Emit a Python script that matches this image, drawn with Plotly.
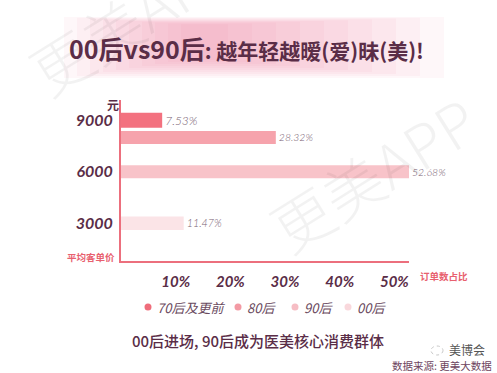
import plotly.graph_objects as go

# ---- data ----
generations = ["70后及更前", "80后", "90后", "00后"]
order_share = [7.53, 28.32, 52.68, 11.47]          # 订单数占比 (%)
avg_price = [9000, 8000, 6000, 3000]                # 平均客单价 (元)
price_ticks = [9000, 6000, 3000]
price_tick_labels = ["9000", "6000", "3000"]
share_ticks = [10, 20, 30, 40, 50]
share_tick_labels = ["10%", "20%", "30%", "40%", "50%"]

# ---- style ----
bar_colors = ["#f3717f", "#f6a3ac", "#f8c3c9", "#fbe4e7"]
dot_colors = ["#ef6d7b", "#f39aa4", "#f6bdc4", "#f9d8dc"]
bar_widths = [880, 760, 760, 780]
legend_dot_px = [148, 238, 295, 348]   # legend entry positions (layout)
W, H = 497, 373
L, R, T, B = 121, 88, 100, 112
PW, PH = W - L - R, H - T - B
AXIS = "#ec6f7d"
DARK = "#5a2d47"
LABEL = "#7a6273"


def px(x):
    return (x - L) / PW


def py(y):
    return (H - B - y) / PH


fig = go.Figure()

for g, v, p, c, w in zip(generations, order_share, avg_price, bar_colors, bar_widths):
    fig.add_trace(go.Bar(
        x=[v], y=[p], orientation="h", width=w, name=g,
        marker=dict(color=c, line=dict(width=0)),
        text=[f"{v:.2f}%"], textposition="outside", cliponaxis=False,
        textfont=dict(family="Lato", size=12, color=LABEL, style="italic", weight=300),
        showlegend=False, hoverinfo="skip",
    ))

shapes = []
# title glow band
for i in range(10):
    shapes.append(dict(
        type="rect", xref="paper", yref="paper",
        x0=px(64 + i * 13), x1=px(444 - i * 24),
        y0=py(78 - i * 2), y1=py(17 + i * 0.8),
        fillcolor="#f07c9a", opacity=0.06, line=dict(width=0), layer="below",
    ))

annotations = [
    # watermarks
    dict(text="更美APP", x=px(132), y=py(16), xref="paper", yref="paper", showarrow=False,
         xanchor="center", yanchor="middle", textangle=-32,
         font=dict(family="Noto Sans CJK SC", size=60, color="rgba(0,0,0,0.05)", weight=300)),
    dict(text="更美APP", x=px(372), y=py(172), xref="paper", yref="paper", showarrow=False,
         xanchor="center", yanchor="middle", textangle=-32,
         font=dict(family="Noto Sans CJK SC", size=60, color="rgba(0,0,0,0.05)", weight=300)),
    dict(text="<span style='font-size:25px'>00后vs90后</span>: 越年轻越暧(爱)昧(美)!",
         x=px(246), y=py(48), xref="paper", yref="paper", showarrow=False,
         xanchor="center", yanchor="middle",
         font=dict(family="Noto Sans CJK SC", size=21, color=DARK, weight="bold")),
    dict(text="元", x=px(113), y=py(105), xref="paper", yref="paper", showarrow=False,
         xanchor="center", yanchor="middle",
         font=dict(family="Noto Sans CJK SC", size=12, color=DARK, weight="bold")),
    dict(text="平均客单价", x=px(117), y=py(257), xref="paper", yref="paper", showarrow=False,
         xanchor="right", yanchor="middle",
         font=dict(family="Noto Sans CJK SC", size=9.5, color="#e8616f", weight="bold")),
    dict(text="订单数占比", x=px(418), y=py(276), xref="paper", yref="paper", showarrow=False,
         xanchor="left", yanchor="middle",
         font=dict(family="Noto Sans CJK SC", size=9.5, color="#e8616f", weight="bold")),
    dict(text="00后进场, 90后成为医美核心消费群体", x=px(258), y=py(340), xref="paper", yref="paper",
         showarrow=False, xanchor="center", yanchor="middle",
         font=dict(family="Noto Sans CJK SC", size=15, color=DARK, weight=500)),
    dict(text="美博会", x=px(447), y=py(349), xref="paper", yref="paper", showarrow=False,
         xanchor="left", yanchor="middle",
         font=dict(family="Noto Sans CJK SC", size=12, color="#555555")),
    dict(text="数据来源: 更美大数据", x=px(494), y=py(365.5), xref="paper", yref="paper", showarrow=False,
         xanchor="right", yanchor="middle",
         font=dict(family="Noto Sans CJK SC", size=10.5, color="#6e4560")),
]

# legend: coloured dots + labels
for g, c, dx in zip(generations, dot_colors, legend_dot_px):
    shapes.append(dict(
        type="circle", xref="paper", yref="paper",
        x0=px(dx - 3.5), x1=px(dx + 3.5), y0=py(307 + 3.5), y1=py(307 - 3.5),
        fillcolor=c, line=dict(width=0),
    ))
    annotations.append(dict(
        text=g, x=px(dx + 7), y=py(307), xref="paper", yref="paper", showarrow=False,
        xanchor="left", yanchor="middle",
        font=dict(family="Noto Sans CJK SC", size=13, color="#6a4a5e", style="italic"),
    ))

# small wechat-like mark before 美博会
shapes.append(dict(
    type="circle", xref="paper", yref="paper",
    x0=px(431), x1=px(443), y0=py(355), y1=py(346),
    fillcolor="rgba(0,0,0,0)", line=dict(width=1, color="#c8c8c8", dash="dot"),
))

fig.update_layout(
    width=W, height=H,
    margin=dict(l=L, r=R, t=T, b=B, pad=0, autoexpand=False),
    paper_bgcolor="white", plot_bgcolor="white",
    barmode="overlay", showlegend=False,
    shapes=shapes, annotations=annotations,
    xaxis=dict(
        range=[0, 52.68], showgrid=False, zeroline=False,
        showline=True, linecolor=AXIS, linewidth=2,
        tickvals=share_ticks, ticktext=share_tick_labels, ticks="",
        ticklabelstandoff=6,
        tickfont=dict(family="Lato", size=15, color=DARK, style="italic", weight="bold"),
    ),
    yaxis=dict(
        range=[804, 10182], showgrid=False, zeroline=False,
        showline=True, linecolor=AXIS, linewidth=2,
        tickvals=price_ticks, ticktext=price_tick_labels, ticks="",
        ticklabelstandoff=3,
        tickfont=dict(family="Lato", size=16, color=DARK, style="italic", weight="bold"),
    ),
)

fig.write_html(
    "out.html",
    config={"displayModeBar": False},
    post_script="document.body.style.margin='0';document.body.style.overflow='hidden';",
)
